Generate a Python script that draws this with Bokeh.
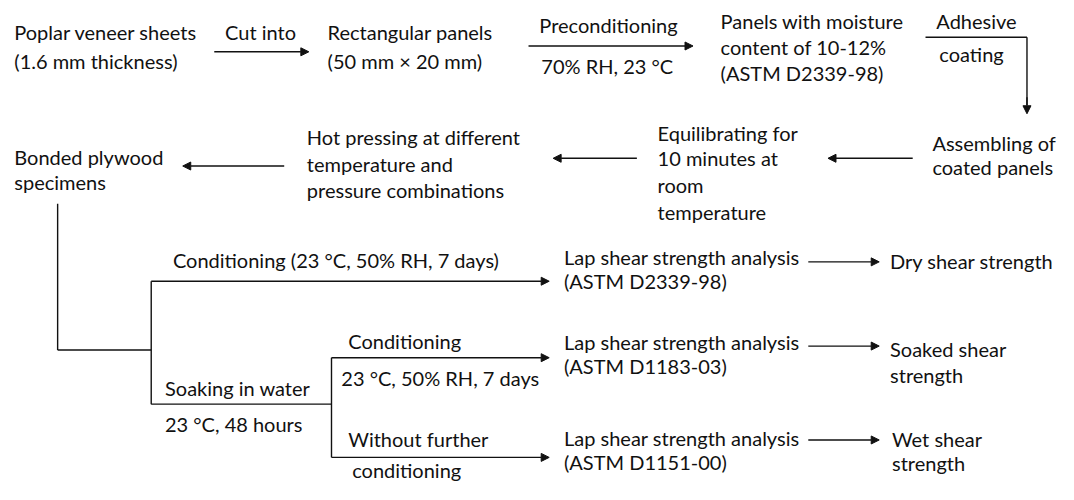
from bokeh.plotting import figure
from bokeh.models import Range1d, ColumnDataSource, Arrow, NormalHead
from bokeh.core.properties import value
from bokeh.embed import file_html
from bokeh.resources import INLINE

# ---- node labels (text content) ----
label_text = [
    "Poplar veneer sheets", "(1.6 mm thickness)",
    "Cut into",
    "Rectangular panels", "(50 mm \u00d7 20 mm)",
    "Preconditioning", "70% RH, 23 \u00b0C",
    "Panels with moisture", "content of 10-12%", "(ASTM D2339-98)",
    "Adhesive", "coating",
    "Assembling of", "coated panels",
    "Equilibrating for", "10 minutes at", "room", "temperature",
    "Hot pressing at different", "temperature and", "pressure combinations",
    "Bonded plywood", "specimens",
    "Conditioning (23 \u00b0C, 50% RH, 7 days)",
    "Soaking in water", "23 \u00b0C, 48 hours",
    "Conditioning", "23 \u00b0C, 50% RH, 7 days",
    "Without further", "conditioning",
    "Lap shear strength analysis", "(ASTM D2339-98)",
    "Lap shear strength analysis", "(ASTM D1183-03)",
    "Lap shear strength analysis", "(ASTM D1151-00)",
    "Dry shear strength",
    "Soaked shear", "strength",
    "Wet shear", "strength",
]
# layout positions (pixel space of the original 1074x500 drawing)
label_x = [14, 14, 228, 332, 332, 547, 549, 731, 731, 731, 950, 953, 946, 946,
           667, 667, 667, 667, 311, 311, 311, 14, 14, 175, 167, 167, 353, 346,
           353, 357, 572, 572, 572, 572, 572, 572, 903, 903, 903, 905, 905]
label_y = [33, 62, 33, 33, 62, 25, 68, 21, 48, 75, 21, 55, 147, 172,
           137, 163, 191, 218, 141, 169, 196, 162, 188, 268, 400, 438, 352, 390,
           453, 485, 265, 290, 353, 378, 452, 477, 269, 360, 387, 453, 478]

# ---- connector lines without heads ----
seg_x0 = [939, 1042, 58, 58, 153, 153, 336]
seg_y0 = [38, 38, 210, 361, 290, 417, 369]
seg_x1 = [1042, 1042, 58, 153, 153, 336, 336]
seg_y1 = [38, 108, 361, 361, 417, 417, 472]

# ---- arrows ----
arr_x0 = [217, 536, 1042, 926, 646, 288, 153, 336, 336, 820, 820, 820]
arr_y0 = [53, 47, 100, 163, 163, 171, 290, 369, 472, 270, 357, 454]
arr_x1 = [313, 703, 1042, 840, 561, 185, 557, 557, 557, 892, 892, 892]
arr_y1 = [53, 47, 117, 163, 163, 171, 290, 369, 472, 270, 357, 454]

W, H = 1058, 484
p = figure(width=W, height=H, output_backend="svg", toolbar_location=None,
           x_range=Range1d(0, 1074), y_range=Range1d(500, 0),
           min_border=0)
p.axis.visible = False
p.grid.visible = False
p.outline_line_color = None
p.background_fill_color = "white"
p.border_fill_color = "white"

FONT = "Lato"
INK = "#111111"
src = ColumnDataSource(dict(x=label_x, y=label_y, t=label_text))
p.text(x="x", y="y", text="t", source=src, text_font=value(FONT),
       text_font_size="20px", text_align="left", text_baseline="middle",
       text_color=INK)

p.segment(x0=seg_x0, y0=seg_y0, x1=seg_x1, y1=seg_y1, line_color=INK,
          line_width=1.4)

asrc = ColumnDataSource(dict(x0=arr_x0, y0=arr_y0, x1=arr_x1, y1=arr_y1))
p.add_layout(Arrow(end=NormalHead(size=8, fill_color=INK, line_color=INK, line_width=1),
                   x_start="x0", y_start="y0", x_end="x1", y_end="y1",
                   line_color=INK, line_width=1.4, source=asrc))

open("out.html", "w").write(file_html(p, INLINE))
